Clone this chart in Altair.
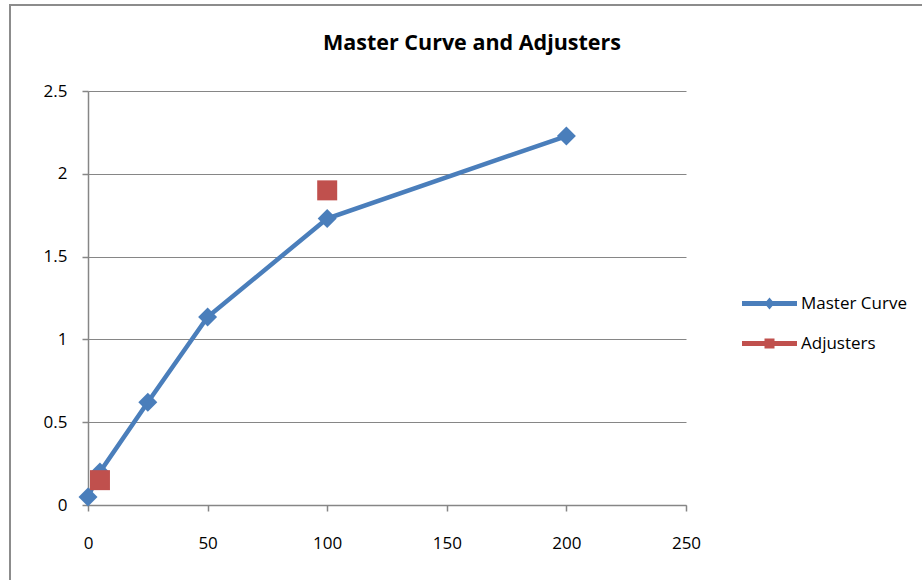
import altair as alt
import pandas as pd

TITLE = "Master Curve and Adjusters"
master_x = [0, 5, 25, 50, 100, 200]
master_y = [0.048, 0.2, 0.62, 1.135, 1.73, 2.228]
adj_x = [5, 100]
adj_y = [0.15, 1.9]
series_names = ["Master Curve", "Adjusters"]
series_colors = ["#4A7EBB", "#C0504D"]
x_ticks = [0, 50, 100, 150, 200, 250]
y_ticks = [0, 0.5, 1, 1.5, 2, 2.5]

master = pd.DataFrame({"x": master_x, "y": master_y, "series": series_names[0]})
adj = pd.DataFrame({"x": adj_x, "y": adj_y, "series": series_names[1]})
both = pd.concat([master, adj], ignore_index=True)

FONT = "Open Sans"
W, H = 598, 414
PL, PT = 88, 91
GRAY = "#868686"

xenc = alt.X("x:Q", scale=alt.Scale(domain=[0, 250], nice=False, zero=False),
             axis=alt.Axis(values=x_ticks, title=None, grid=False, labelPadding=24,
                           tickSize=6, labelFlush=False))
yenc = alt.Y("y:Q", scale=alt.Scale(domain=[0, 2.5], nice=False),
             axis=alt.Axis(values=y_ticks, title=None, grid=True, format="~g",
                           labelPadding=15, tickSize=6, labelFlush=False))

border = alt.Chart(pd.DataFrame({"k": [0]})).mark_rect(
    fillOpacity=0, stroke="#8C8C8C", strokeWidth=2
).encode(x=alt.value(10 - PL), x2=alt.value(1200), y=alt.value(5 - PT), y2=alt.value(900))

line = alt.Chart(master).mark_line(color=series_colors[0], strokeWidth=4.5).encode(x=xenc, y=yenc)
diamonds = alt.Chart(master).mark_point(shape="diamond", filled=True, size=360,
                                        color=series_colors[0], opacity=1).encode(x=xenc, y=yenc)
squares = alt.Chart(adj).mark_point(shape="square", filled=True, size=400,
                                    color=series_colors[1], opacity=1).encode(x=xenc, y=yenc)

path_master = "M-5.5,-0.5L5.5,-0.5L5.5,0.5L-5.5,0.5Z M0,-1.2L1,0L0,1.2L-1,0Z"
path_adj = "M-5.5,-0.5L5.5,-0.5L5.5,0.5L-5.5,0.5Z M-1,-1L1,-1L1,1L-1,1Z"

leg = dict(orient="none", legendX=673, legendY=204, title=None, symbolSize=100,
           labelFont=FONT, labelFontSize=17, labelColor="black", labelOffset=23,
           rowPadding=22, padding=0, symbolOpacity=1, symbolStrokeWidth=0)

legend_layer = alt.Chart(both).mark_point(filled=True, opacity=0).encode(
    x=xenc, y=yenc,
    color=alt.Color("series:N", scale=alt.Scale(domain=series_names, range=series_colors),
                    legend=alt.Legend(**leg)),
    shape=alt.Shape("series:N", scale=alt.Scale(domain=series_names, range=[path_master, path_adj]),
                    legend=alt.Legend(**leg)),
)

title = alt.Chart(pd.DataFrame({"t": [TITLE]})).mark_text(
    font=FONT, fontSize=21.5, fontWeight="bold", align="center", baseline="alphabetic", color="black"
).encode(text="t:N", x=alt.value(472 - PL), y=alt.value(50 - PT))

chart = alt.layer(border, line, diamonds, squares, legend_layer, title).properties(
    width=W, height=H, autosize="none",
    padding={"left": PL, "top": PT, "right": 922 - PL - W, "bottom": 580 - PT - H},
    background="white",
).configure_view(stroke=None).configure_axis(
    domainColor=GRAY, domainWidth=1.5, tickColor=GRAY, tickWidth=1.5,
    gridColor=GRAY, gridWidth=1, labelFont=FONT, labelFontSize=17, labelColor="black",
)

chart.save("out.html", embed_options={"renderer": "svg", "actions": False})
